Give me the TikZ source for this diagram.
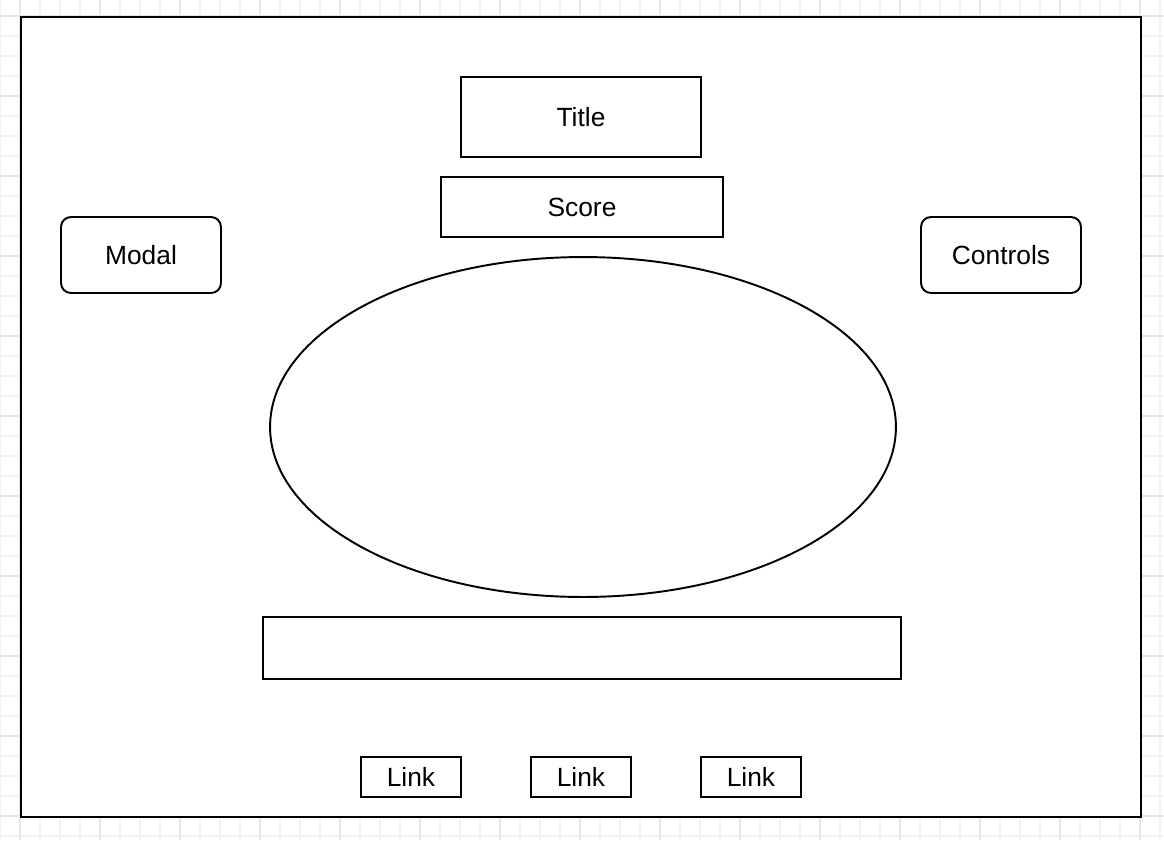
\documentclass[tikz,border=0pt]{standalone}
\usepackage{fontspec}
\setmainfont{Liberation Sans}
\usepackage{tikz}
\usetikzlibrary{shapes,positioning,calc}

\tikzset{
    box/.style={draw, line width=1.1pt, fill=white, inner sep=0pt, font=\fontsize{15}{18}\selectfont},
    roundbox/.style={box, rounded corners=0.2cm},
    gridminor/.style={draw=black!5, line width=0.6pt},
    gridmajor/.style={draw=black!10, line width=0.6pt}
}

\begin{document}
\begin{tikzpicture}[x=0.02cm, y=-0.02cm]
    \useasboundingbox (0,0) rectangle (1164,840);

    % Background grid
    \foreach \gx in {0,20,...,1160} \draw[gridminor] (\gx,0) -- (\gx,840);
    \foreach \gy in {16,36,...,836} \draw[gridminor] (0,\gy) -- (1164,\gy);
    \foreach \gx in {20,100,...,1140} \draw[gridmajor] (\gx,0) -- (\gx,840);
    \foreach \gy in {16,96,...,836} \draw[gridmajor] (0,\gy) -- (1164,\gy);

    % Page frame
    \draw[line width=1.1pt, fill=white] (21,17) rectangle (1141,817);

    % Header
    \node[box, minimum width=4.8cm, minimum height=1.6cm] (title) at (581,117) {Title};
    \node[box, minimum width=5.64cm, minimum height=1.2cm] (score) at (582,207) {Score};

    % Side buttons
    \node[roundbox, minimum width=3.2cm, minimum height=1.52cm] (modal) at (141,255) {Modal};
    \node[roundbox, minimum width=3.2cm, minimum height=1.52cm] (controls) at (1001,255) {Controls};

    % Board
    \node[box, ellipse, minimum width=12.52cm, minimum height=6.8cm] (board) at (583,427) {};

    % Input bar
    \node[box, minimum width=12.76cm, minimum height=1.24cm] (inputbar) at (582,648) {};

    % Footer links
    \node[box, minimum width=2cm, minimum height=0.8cm] (link1) at (411,777) {Link};
    \node[box, minimum width=2cm, minimum height=0.8cm] (link2) at (581,777) {Link};
    \node[box, minimum width=2cm, minimum height=0.8cm] (link3) at (751,777) {Link};

\end{tikzpicture}
\end{document}
